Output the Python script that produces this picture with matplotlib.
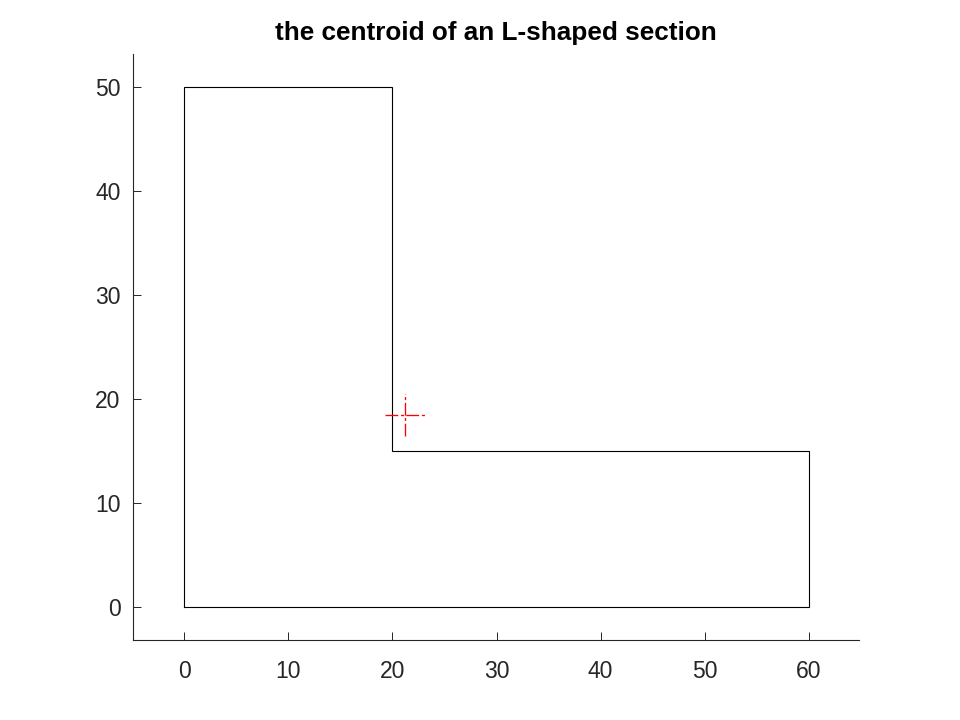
import matplotlib
matplotlib.use("Agg")
import matplotlib.pyplot as plt

plt.rcParams['font.family'] = ['Liberation Sans', 'DejaVu Sans']
plt.rcParams['lines.scale_dashes'] = False

# outline of the section
section_x = [0, 60, 60, 20, 20, 0, 0]
section_y = [0, 0, 15, 15, 50, 50, 0]

# centroid cross
cross_h_x = [19.25, 23.25]
cross_h_y = [18.44, 18.44]
cross_v_x = [21.25, 21.25]
cross_v_y = [16.44, 20.44]

xticks = [0, 10, 20, 30, 40, 50, 60]
yticks = [0, 10, 20, 30, 40, 50]

fig = plt.figure(figsize=(9.6, 7.2), dpi=100)
ax = fig.add_axes([133 / 960, 1 - 640 / 720, (859 - 133) / 960, (640 - 54) / 720])

ax.plot(section_x, section_y, color="black", lw=0.8, solid_joinstyle="miter")

# dash-dot, the cross is red
dashdot = (0, (9.2, 2.0, 2.2, 1.6))
ax.plot(cross_h_x, cross_h_y, color="#ff0000", lw=0.95, ls=dashdot, dash_capstyle="butt")
ax.plot(cross_v_x, cross_v_y, color="#ff0000", lw=0.95, ls=dashdot, dash_capstyle="butt")

ax.set_xlim(-4.9, 64.8)
ax.set_ylim(-3.17, 53.17)
ax.set_xticks(xticks)
ax.set_yticks(yticks)

ax.spines["top"].set_visible(False)
ax.spines["right"].set_visible(False)
for side in ["left", "bottom"]:
    ax.spines[side].set_linewidth(0.8)
    ax.spines[side].set_color("#262626")

ax.tick_params(direction="in", length=5.5, width=0.7, color="#262626",
               labelcolor="#262626", labelsize=16.5)
ax.tick_params(axis="x", pad=14.3)
ax.tick_params(axis="y", pad=9)

ax.set_title("the centroid of an L-shaped section", fontsize=18.8, fontweight="bold", pad=10.4)

fig.savefig("out.png", dpi=100)
